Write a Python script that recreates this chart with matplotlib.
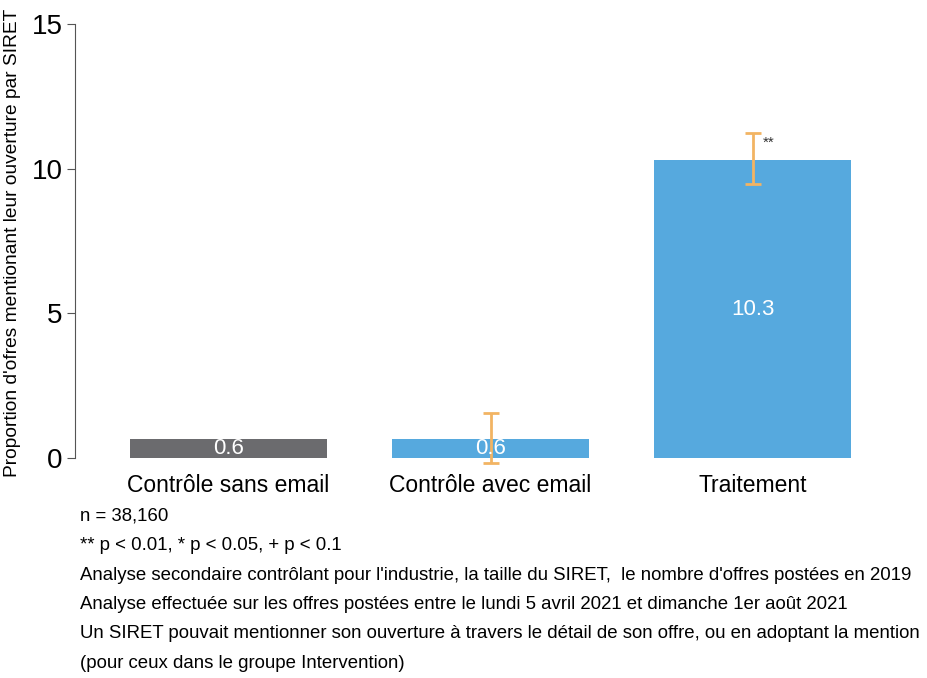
import matplotlib
matplotlib.use("Agg")
from matplotlib import pyplot as plt
import numpy as np

plt.rcParams['font.family'] = ['Liberation Sans', 'DejaVu Sans']

groupes = ["Contrôle sans email", "Contrôle avec email", "Traitement"]
valeurs = [0.65, 0.65, 10.3]
etiquettes = ["0.6", "0.6", "10.3"]
err_bas = [None, -0.17, 9.47]
err_haut = [None, 1.56, 11.23]
signif = ["", "", "**"]
couleurs = ["#6b6b6e", "#56a9de", "#56a9de"]

notes = [
    "n = 38,160",
    "** p < 0.01, * p < 0.05, + p < 0.1",
    "Analyse secondaire contrôlant pour l'industrie, la taille du SIRET,  le nombre d'offres postées en 2019",
    "Analyse effectuée sur les offres postées entre le lundi 5 avril 2021 et dimanche 1er août 2021",
    "Un SIRET pouvait mentionner son ouverture à travers le détail de son offre, ou en adoptant la mention",
    "(pour ceux dans le groupe Intervention)",
]

fig = plt.figure(figsize=(9.28, 6.78), dpi=100)
ax = fig.add_axes([75 / 928, 0.3116, 835 / 928, 0.6616])

x = np.arange(len(groupes))
ax.bar(x, valeurs, width=0.75, color=couleurs)

for i in range(len(groupes)):
    ax.text(x[i], valeurs[i] / 2, etiquettes[i], color="white", fontsize=16,
            ha="center", va="center")
    if err_bas[i] is not None:
        ax.errorbar(x[i], valeurs[i],
                    yerr=[[valeurs[i] - err_bas[i]], [err_haut[i] - valeurs[i]]],
                    fmt="none", ecolor="#f2b463", elinewidth=2, capsize=6, capthick=2)
    if signif[i]:
        ax.text(x[i] + 0.04, err_haut[i] - 0.1, signif[i], fontsize=11,
                ha="left", va="top", color="#333333")

ax.set_xlim(-0.585, 2.6)
ax.set_ylim(-0.3, 15.2)
ax.set_yticks([0, 5, 10, 15])
ax.tick_params(axis="y", labelsize=20, length=6, color="#555555", pad=3)
ax.tick_params(axis="x", length=0, labelsize=16.5, pad=5)
ax.set_xticks(x)
ax.set_xticklabels(groupes)
for s in ["top", "right", "bottom"]:
    ax.spines[s].set_visible(False)
ax.spines["left"].set_bounds(0, 15)
ax.spines["left"].set_color("#555555")
ax.set_ylabel("Proportion d'ofres mentionant leur ouverture par SIRET", fontsize=13.8)
ax.yaxis.set_label_coords(-0.065, 0.5)

y0 = 1 - 516 / 678
for k, ligne in enumerate(notes):
    fig.text(80 / 928, y0 - k * (29.5 / 678), ligne, fontsize=13.4, va="center", ha="left")

fig.savefig("out.png", dpi=100)
